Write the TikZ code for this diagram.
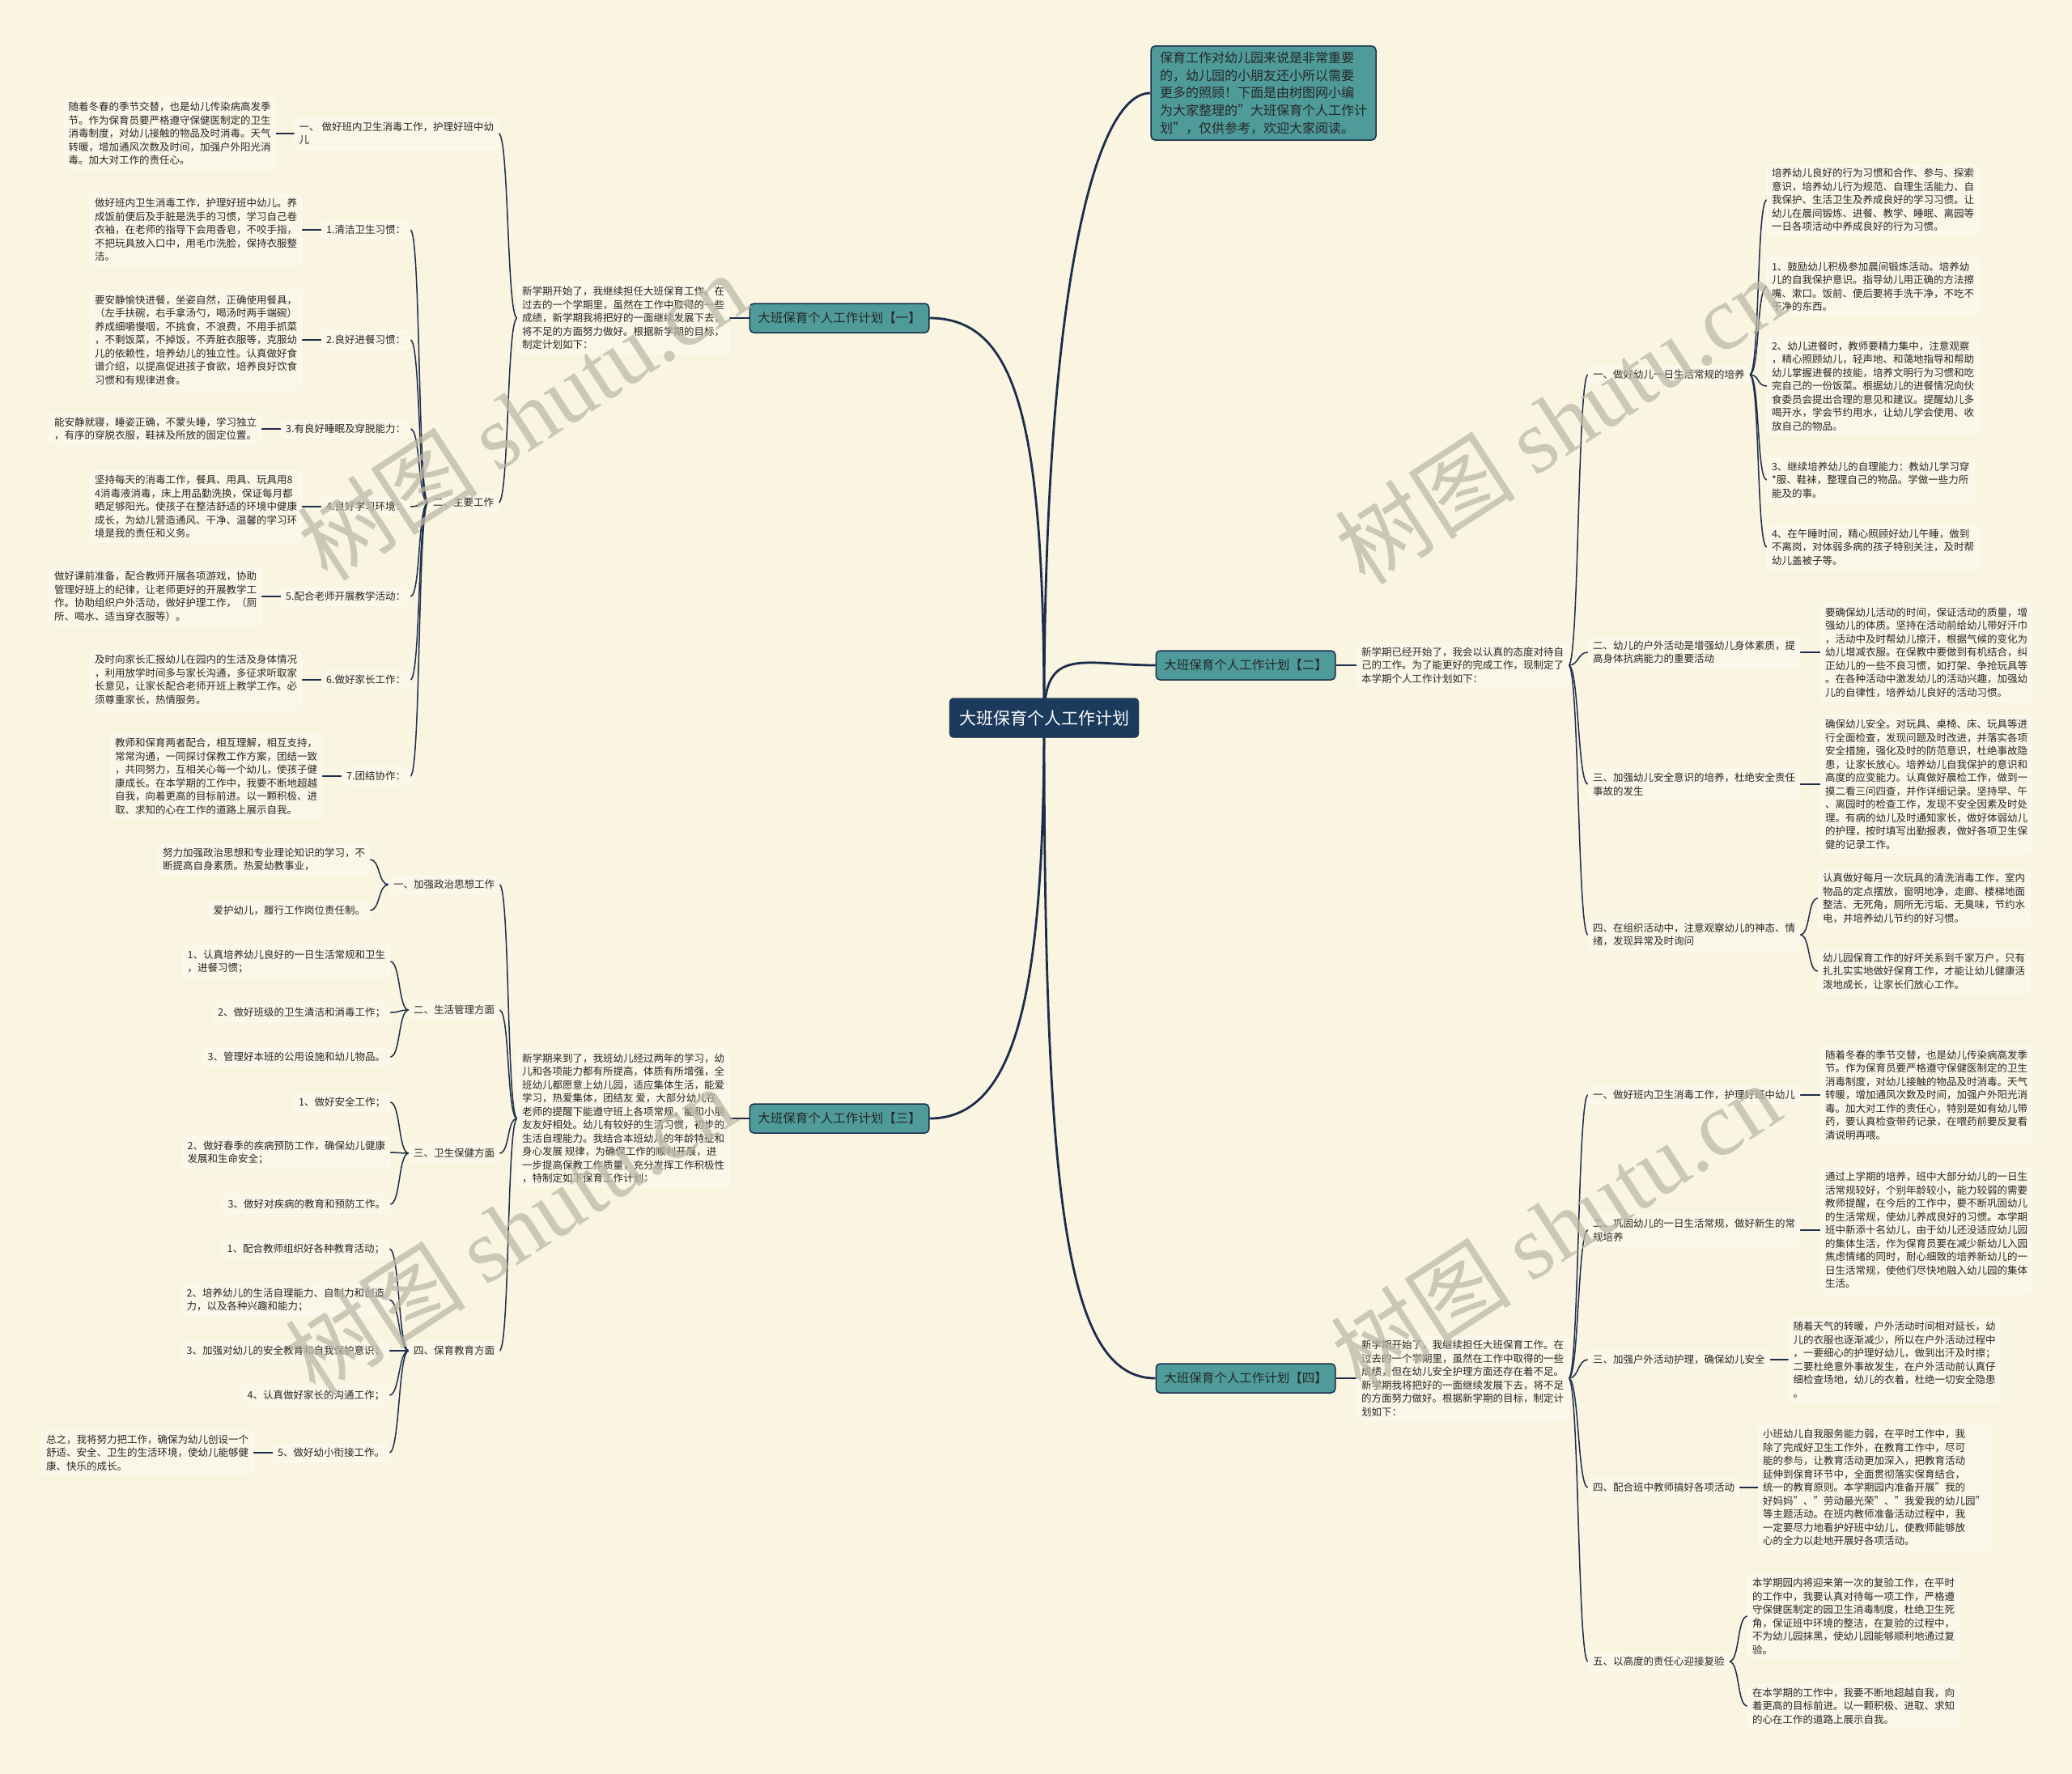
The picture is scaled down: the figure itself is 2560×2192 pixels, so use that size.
\documentclass[tikz,border=0pt]{standalone}
\usepackage{fontspec}
\setmainfont{Noto Sans CJK SC}
\newfontfamily\wmlatin{Liberation Serif}
\usetikzlibrary{positioning}
\definecolor{bgc}{HTML}{FAF5E1}
\definecolor{boxf}{HTML}{FBF7E8}
\definecolor{linec}{HTML}{1B2D4B}
\definecolor{tealc}{HTML}{4E9B9A}
\definecolor{rootc}{HTML}{1B3A5C}
\definecolor{txtc}{HTML}{262626}
\definecolor{wmc}{HTML}{BDB9A8}
\pgfdeclarelayer{bg}
\pgfsetlayers{bg,main}
\newcommand\mmcl[2]{\draw[conn] (#1.west) .. controls +(-13,0) and +(13,0) .. (#2.east);}
\newcommand\mmcr[2]{\draw[conn] (#1.east) .. controls +(13,0) and +(-13,0) .. (#2.west);}
\newcommand\mmsl[2]{\draw[stub] (#1.west) -- (#2.east);}
\newcommand\mmsr[2]{\draw[stub] (#1.east) -- (#2.west);}
\begin{document}
\begin{tikzpicture}[x=1pt,y=-1pt,
  tbox/.style={draw=white!65!bgc, fill=boxf, rounded corners=5pt, line width=1pt, align=left,
    inner xsep=5.5pt, inner ysep=4.5pt, text=txtc, font=\fontsize{12.5}{16.5}\selectfont},
  branch/.style={draw=linec, fill=tealc, rounded corners=5pt, line width=1.5pt, text=txtc,
    font=\fontsize{15.5}{19}\selectfont, inner xsep=10pt, minimum height=36pt},
  notebox/.style={draw=linec, fill=tealc, rounded corners=5pt, line width=1.5pt, text=txtc, align=left,
    font=\fontsize{16}{21.7}\selectfont, inner xsep=11pt, inner ysep=7pt},
  rootn/.style={fill=rootc, draw=rootc!60!black, rounded corners=5pt, text=white,
    font=\fontsize{21}{25}\selectfont, inner xsep=12pt, minimum height=49pt},
  conn/.style={draw=linec, line width=1.5pt},
  stub/.style={draw=linec, line width=2.4pt},
  trunk/.style={draw=linec, line width=2.8pt},
  wm/.style={text=wmc, opacity=0.75, rotate=33, font=\fontsize{112}{120}\selectfont}
]
\useasboundingbox (0,0) rectangle (2560,2192);

% ---------- root, note and branches ----------
\node[rootn] (root) at (1290,887) {大班保育个人工作计划};
\node[notebox] (note) at (1561,115) {保育工作对幼儿园来说是非常重要\\的，幼儿园的小朋友还小所以需要\\更多的照顾！下面是由树图网小编\\为大家整理的"大班保育个人工作计\\划"，仅供参考，欢迎大家阅读。};
\node[branch] (b1) at (1037,393) {大班保育个人工作计划【一】};
\node[branch] (b2) at (1539,822) {大班保育个人工作计划【二】};
\node[branch] (b3) at (1037,1382) {大班保育个人工作计划【三】};
\node[branch] (b4) at (1539,1703) {大班保育个人工作计划【四】};

% ---------- branch one ----------
\node[tbox,anchor=east] (i1) at (901,393) {新学期开始了，我继续担任大班保育工作。在\\过去的一个学期里，虽然在工作中取得的一些\\成绩，新学期我将把好的一面继续发展下去，\\将不足的方面努力做好。根据新学期的目标，\\制定计划如下：};
\node[tbox,anchor=east] (a1) at (616,165) {一、 做好班内卫生消毒工作，护理好班中幼\\儿};
\node[tbox,left=23pt of a1] (a1t) {随着冬春的季节交替，也是幼儿传染病高发季\\节。作为保育员要严格遵守保健医制定的卫生\\消毒制度，对幼儿接触的物品及时消毒。天气\\转暖，增加通风次数及时间，加强户外阳光消\\毒。加大对工作的责任心。};
\node[tbox,anchor=east] (a2) at (616,621) {二、主要工作};
\node[tbox,anchor=east] (p1) at (507,284) {1.清洁卫生习惯：};
\node[tbox,left=24pt of p1] (p1t) {做好班内卫生消毒工作，护理好班中幼儿。养\\成饭前便后及手脏是洗手的习惯，学习自己卷\\衣袖，在老师的指导下会用香皂，不咬手指，\\不把玩具放入口中，用毛巾洗脸，保持衣服整\\洁。};
\node[tbox,anchor=east] (p2) at (507,420) {2.良好进餐习惯：};
\node[tbox,left=24pt of p2] (p2t) {要安静愉快进餐，坐姿自然，正确使用餐具，\\（左手扶碗，右手拿汤勺，喝汤时两手端碗）\\养成细嚼慢咽，不挑食，不浪费，不用手抓菜\\，不剩饭菜，不掉饭，不弄脏衣服等，克服幼\\儿的依赖性，培养幼儿的独立性。认真做好食\\谱介绍，以提高促进孩子食欲，培养良好饮食\\习惯和有规律进食。};
\node[tbox,anchor=east] (p3) at (507,530) {3.有良好睡眠及穿脱能力：};
\node[tbox,left=24pt of p3] (p3t) {能安静就寝，睡姿正确，不蒙头睡，学习独立\\，有序的穿脱衣服，鞋袜及所放的固定位置。};
\node[tbox,anchor=east] (p4) at (507,626) {4.良好学习环境：};
\node[tbox,left=24pt of p4] (p4t) {坚持每天的消毒工作，餐具、用具、玩具用8\\4消毒液消毒，床上用品勤洗换，保证每月都\\晒足够阳光。使孩子在整洁舒适的环境中健康\\成长，为幼儿营造通风、干净、温馨的学习环\\境是我的责任和义务。};
\node[tbox,anchor=east] (p5) at (507,737) {5.配合老师开展教学活动：};
\node[tbox,left=24pt of p5] (p5t) {做好课前准备，配合教师开展各项游戏，协助\\管理好班上的纪律，让老师更好的开展教学工\\作。协助组织户外活动，做好护理工作，（厕\\所、喝水、适当穿衣服等）。};
\node[tbox,anchor=east] (p6) at (507,840) {6.做好家长工作：};
\node[tbox,left=24pt of p6] (p6t) {及时向家长汇报幼儿在园内的生活及身体情况\\，利用放学时间多与家长沟通，多征求听取家\\长意见，让家长配合老师开班上教学工作。必\\须尊重家长，热情服务。};
\node[tbox,anchor=east] (p7) at (507,959) {7.团结协作：};
\node[tbox,left=24pt of p7] (p7t) {教师和保育两者配合，相互理解，相互支持，\\常常沟通，一同探讨保教工作方案，团结一致\\，共同努力，互相关心每一个幼儿，使孩子健\\康成长。在本学期的工作中，我要不断地超越\\自我，向着更高的目标前进。以一颗积极、进\\取、求知的心在工作的道路上展示自我。};

% ---------- branch three ----------
\node[tbox,anchor=east] (i3) at (901,1382) {新学期来到了，我班幼儿经过两年的学习，幼\\儿和各项能力都有所提高，体质有所增强，全\\班幼儿都愿意上幼儿园，适应集体生活，能爱\\学习，热爱集体，团结友 爱，大部分幼儿在\\老师的提醒下能遵守班上各项常规，能和小朋\\友友好相处。幼儿有较好的生活习惯，初步的\\生活自理能力。我结合本班幼儿的年龄特征和\\身心发展 规律，为确保工作的顺利开展，进\\一步提高保教工作质量，充分发挥工作积极性\\，特制定如下保育工作计划：};
\node[tbox,anchor=east] (c1) at (617,1093) {一、加强政治思想工作};
\node[tbox,anchor=east] (c1a) at (457,1062) {努力加强政治思想和专业理论知识的学习，不\\断提高自身素质。热爱幼教事业，};
\node[tbox,anchor=east] (c1b) at (457,1125) {爱护幼儿，履行工作岗位责任制。};
\node[tbox,anchor=east] (c2) at (617,1248) {二、生活管理方面};
\node[tbox,anchor=east] (c2a) at (482,1188) {1、认真培养幼儿良好的一日生活常规和卫生\\，进餐习惯；};
\node[tbox,anchor=east] (c2b) at (482,1251) {2、做好班级的卫生清洁和消毒工作；};
\node[tbox,anchor=east] (c2c) at (482,1306) {3、管理好本班的公用设施和幼儿物品。};
\node[tbox,anchor=east] (c3) at (617,1425) {三、卫生保健方面};
\node[tbox,anchor=east] (c3a) at (482,1362) {1、做好安全工作；};
\node[tbox,anchor=east] (c3b) at (482,1424) {2、做好春季的疾病预防工作，确保幼儿健康\\发展和生命安全；};
\node[tbox,anchor=east] (c3c) at (482,1488) {3、做好对疾病的教育和预防工作。};
\node[tbox,anchor=east] (c4) at (617,1669) {四、保育教育方面};
\node[tbox,anchor=east] (c4a) at (481,1543) {1、配合教师组织好各种教育活动；};
\node[tbox,anchor=east] (c4b) at (481,1606) {2、培养幼儿的生活自理能力、自制力和创造\\力，以及各种兴趣和能力；};
\node[tbox,anchor=east] (c4c) at (481,1669) {3、加强对幼儿的安全教育和自我保护意识；};
\node[tbox,anchor=east] (c4d) at (481,1724) {4、认真做好家长的沟通工作；};
\node[tbox,anchor=east] (c4e) at (481,1795) {5、做好幼小衔接工作。};
\node[tbox,left=24pt of c4e] (c4et) {总之，我将努力把工作，确保为幼儿创设一个\\舒适、安全、卫生的生活环境，使幼儿能够健\\康、快乐的成长。};

% ---------- branch two ----------
\node[tbox,anchor=west] (i2) at (1676,822) {新学期已经开始了，我会以认真的态度对待自\\己的工作。为了能更好的完成工作，现制定了\\本学期个人工作计划如下：};
\node[tbox,anchor=west] (d1) at (1962,463) {一、做好幼儿一日生活常规的培养};
\node[tbox,anchor=west] (d1a) at (2183,247) {培养幼儿良好的行为习惯和合作、参与、探索\\意识，培养幼儿行为规范、自理生活能力、自\\我保护、生活卫生及养成良好的学习习惯。让\\幼儿在晨间锻炼、进餐、教学、睡眠、离园等\\一日各项活动中养成良好的行为习惯。};
\node[tbox,anchor=west] (d1b) at (2183,354) {1、鼓励幼儿积极参加晨间锻炼活动。培养幼\\儿的自我保护意识。指导幼儿用正确的方法擦\\嘴、漱口。饭前、便后要将手洗干净，不吃不\\干净的东西。};
\node[tbox,anchor=west] (d1c) at (2183,477) {2、幼儿进餐时，教师要精力集中，注意观察\\，精心照顾幼儿，轻声地、和蔼地指导和帮助\\幼儿掌握进餐的技能，培养文明行为习惯和吃\\完自己的一份饭菜。根据幼儿的进餐情况向伙\\食委员会提出合理的意见和建议。提醒幼儿多\\喝开水，学会节约用水，让幼儿学会使用、收\\放自己的物品。};
\node[tbox,anchor=west] (d1d) at (2183,593) {3、继续培养幼儿的自理能力：教幼儿学习穿\\*服、鞋袜，整理自己的物品。学做一些力所\\能及的事。};
\node[tbox,anchor=west] (d1e) at (2183,676) {4、在午睡时间，精心照顾好幼儿午睡，做到\\不离岗，对体弱多病的孩子特别关注，及时帮\\幼儿盖被子等。};
\node[tbox,anchor=west] (d2) at (1962,806) {二、幼儿的户外活动是增强幼儿身体素质，提\\高身体抗病能力的重要活动};
\node[tbox,right=25pt of d2] (d2t) {要确保幼儿活动的时间，保证活动的质量，增\\强幼儿的体质。坚持在活动前给幼儿带好汗巾\\，活动中及时帮幼儿擦汗，根据气候的变化为\\幼儿增减衣服。在保教中要做到有机结合，纠\\正幼儿的一些不良习惯，如打架、争抢玩具等\\。在各种活动中激发幼儿的活动兴趣，加强幼\\儿的自律性，培养幼儿良好的活动习惯。};
\node[tbox,anchor=west] (d3) at (1962,969) {三、加强幼儿安全意识的培养，杜绝安全责任\\事故的发生};
\node[tbox,right=25pt of d3] (d3t) {确保幼儿安全。对玩具、桌椅、床、玩具等进\\行全面检查，发现问题及时改进，并落实各项\\安全措施，强化及时的防范意识，杜绝事故隐\\患，让家长放心。培养幼儿自我保护的意识和\\高度的应变能力。认真做好晨检工作，做到一\\摸二看三问四查，并作详细记录。坚持早、午\\、离园时的检查工作，发现不安全因素及时处\\理。有病的幼儿及时通知家长，做好体弱幼儿\\的护理，按时填写出勤报表，做好各项卫生保\\健的记录工作。};
\node[tbox,anchor=west] (d4) at (1962,1155) {四、在组织活动中，注意观察幼儿的神态、情\\绪，发现异常及时询问};
\node[tbox,anchor=west] (d4a) at (2246,1110) {认真做好每月一次玩具的清洗消毒工作，室内\\物品的定点摆放，窗明地净，走廊、楼梯地面\\整洁、无死角，厕所无污垢、无臭味，节约水\\电，并培养幼儿节约的好习惯。};
\node[tbox,anchor=west] (d4b) at (2246,1200) {幼儿园保育工作的好坏关系到千家万户，只有\\扎扎实实地做好保育工作，才能让幼儿健康活\\泼地成长，让家长们放心工作。};

% ---------- branch four ----------
\node[tbox,anchor=west] (i4) at (1676,1703) {新学期开始了，我继续担任大班保育工作。在\\过去的一个学期里，虽然在工作中取得的一些\\成绩，但在幼儿安全护理方面还存在着不足。\\新学期我将把好的一面继续发展下去，将不足\\的方面努力做好。根据新学期的目标，制定计\\划如下：};
\node[tbox,anchor=west] (e1) at (1962,1353) {一、做好班内卫生消毒工作，护理好班中幼儿};
\node[tbox,right=25pt of e1] (e1t) {随着冬春的季节交替，也是幼儿传染病高发季\\节。作为保育员要严格遵守保健医制定的卫生\\消毒制度，对幼儿接触的物品及时消毒。天气\\转暖，增加通风次数及时间，加强户外阳光消\\毒。加大对工作的责任心，特别是如有幼儿带\\药，要认真检查带药记录，在喂药前要反复看\\清说明再喂。};
\node[tbox,anchor=west] (e2) at (1962,1520) {二、巩固幼儿的一日生活常规，做好新生的常\\规培养};
\node[tbox,right=25pt of e2] (e2t) {通过上学期的培养，班中大部分幼儿的一日生\\活常规较好，个别年龄较小，能力较弱的需要\\教师提醒，在今后的工作中，要不断巩固幼儿\\的生活常规，使幼儿养成良好的习惯。本学期\\班中新添十名幼儿，由于幼儿还没适应幼儿园\\的集体生活，作为保育员要在减少新幼儿入园\\焦虑情绪的同时，耐心细致的培养新幼儿的一\\日生活常规，使他们尽快地融入幼儿园的集体\\生活。};
\node[tbox,anchor=west] (e3) at (1962,1680) {三、加强户外活动护理，确保幼儿安全};
\node[tbox,right=23pt of e3] (e3t) {随着天气的转暖，户外活动时间相对延长，幼\\儿的衣服也逐渐减少，所以在户外活动过程中\\，一要细心的护理好幼儿，做到出汗及时擦；\\二要杜绝意外事故发生，在户外活动前认真仔\\细检查场地，幼儿的衣着，杜绝一切安全隐患\\。};
\node[tbox,anchor=west] (e4) at (1962,1838) {四、配合班中教师搞好各项活动};
\node[tbox,right=23pt of e4] (e4t) {小班幼儿自我服务能力弱，在平时工作中，我\\除了完成好卫生工作外，在教育工作中，尽可\\能的参与，让教育活动更加深入，把教育活动\\延伸到保育环节中，全面贯彻落实保育结合，\\统一的教育原则。本学期园内准备开展"我的\\好妈妈"、"劳动最光荣"、"我爱我的幼儿园"\\等主题活动。在班内教师准备活动过程中，我\\一定要尽力地看护好班中幼儿，使教师能够放\\心的全力以赴地开展好各项活动。};
\node[tbox,anchor=west] (e5) at (1962,2053) {五、以高度的责任心迎接复验};
\node[tbox,anchor=west] (e5a) at (2159,1997) {本学期园内将迎来第一次的复验工作，在平时\\的工作中，我要认真对待每一项工作，严格遵\\守保健医制定的园卫生消毒制度，杜绝卫生死\\角，保证班中环境的整洁，在复验的过程中，\\不为幼儿园抹黑，使幼儿园能够顺利地通过复\\验。};
\node[tbox,anchor=west] (e5b) at (2159,2108) {在本学期的工作中，我要不断地超越自我，向\\着更高的目标前进。以一颗积极、进取、求知\\的心在工作的道路上展示自我。};

% ---------- watermarks ----------
\node[wm] (w1) at (645,514) {树图 {\wmlatin shutu.cn}};
\node[wm] (w2) at (630,1519) {树图 {\wmlatin shutu.cn}};
\node[wm] (w3) at (1927,519) {树图 {\wmlatin shutu.cn}};
\node[wm] (w4) at (1922,1515) {树图 {\wmlatin shutu.cn}};

% ---------- connectors ----------
\begin{pgfonlayer}{bg}
\fill[bgc] (0,0) rectangle (2560,2192);
\draw[trunk] (root.center) .. controls +(0,-520) and +(-70,0) .. (note.west);
\draw[trunk] (root.center) .. controls +(0,-360) and +(110,0) .. (b1.east);
\draw[trunk] (root.center) .. controls +(0,-90) and +(-90,0) .. (b2.west);
\draw[trunk] (root.center) .. controls +(0,330) and +(110,0) .. (b3.east);
\draw[trunk] (root.center) .. controls +(0,600) and +(-110,0) .. (b4.west);
\mmsl{b1}{i1}
\mmsl{b3}{i3}
\mmsr{b2}{i2}
\mmsr{b4}{i4}
% branch one
\mmcl{i1}{a1} \mmcl{i1}{a2}
\mmsl{a1}{a1t}
\mmcl{a2}{p1} \mmcl{a2}{p2} \mmcl{a2}{p3} \mmcl{a2}{p4} \mmcl{a2}{p5} \mmcl{a2}{p6} \mmcl{a2}{p7}
\mmsl{p1}{p1t} \mmsl{p2}{p2t} \mmsl{p3}{p3t} \mmsl{p4}{p4t} \mmsl{p5}{p5t} \mmsl{p6}{p6t} \mmsl{p7}{p7t}
% branch three
\mmcl{i3}{c1} \mmcl{i3}{c2} \mmcl{i3}{c3} \mmcl{i3}{c4}
\mmcl{c1}{c1a} \mmcl{c1}{c1b}
\mmcl{c2}{c2a} \mmcl{c2}{c2b} \mmcl{c2}{c2c}
\mmcl{c3}{c3a} \mmcl{c3}{c3b} \mmcl{c3}{c3c}
\mmcl{c4}{c4a} \mmcl{c4}{c4b} \mmcl{c4}{c4c} \mmcl{c4}{c4d} \mmcl{c4}{c4e}
\mmsl{c4e}{c4et}
% branch two
\mmcr{i2}{d1} \mmcr{i2}{d2} \mmcr{i2}{d3} \mmcr{i2}{d4}
\mmcr{d1}{d1a} \mmcr{d1}{d1b} \mmcr{d1}{d1c} \mmcr{d1}{d1d} \mmcr{d1}{d1e}
\mmsr{d2}{d2t} \mmsr{d3}{d3t}
\mmcr{d4}{d4a} \mmcr{d4}{d4b}
% branch four
\mmcr{i4}{e1} \mmcr{i4}{e2} \mmcr{i4}{e3} \mmcr{i4}{e4} \mmcr{i4}{e5}
\mmsr{e1}{e1t} \mmsr{e2}{e2t} \mmsr{e3}{e3t} \mmsr{e4}{e4t}
\mmcr{e5}{e5a} \mmcr{e5}{e5b}
\end{pgfonlayer}
\end{tikzpicture}
\end{document}
